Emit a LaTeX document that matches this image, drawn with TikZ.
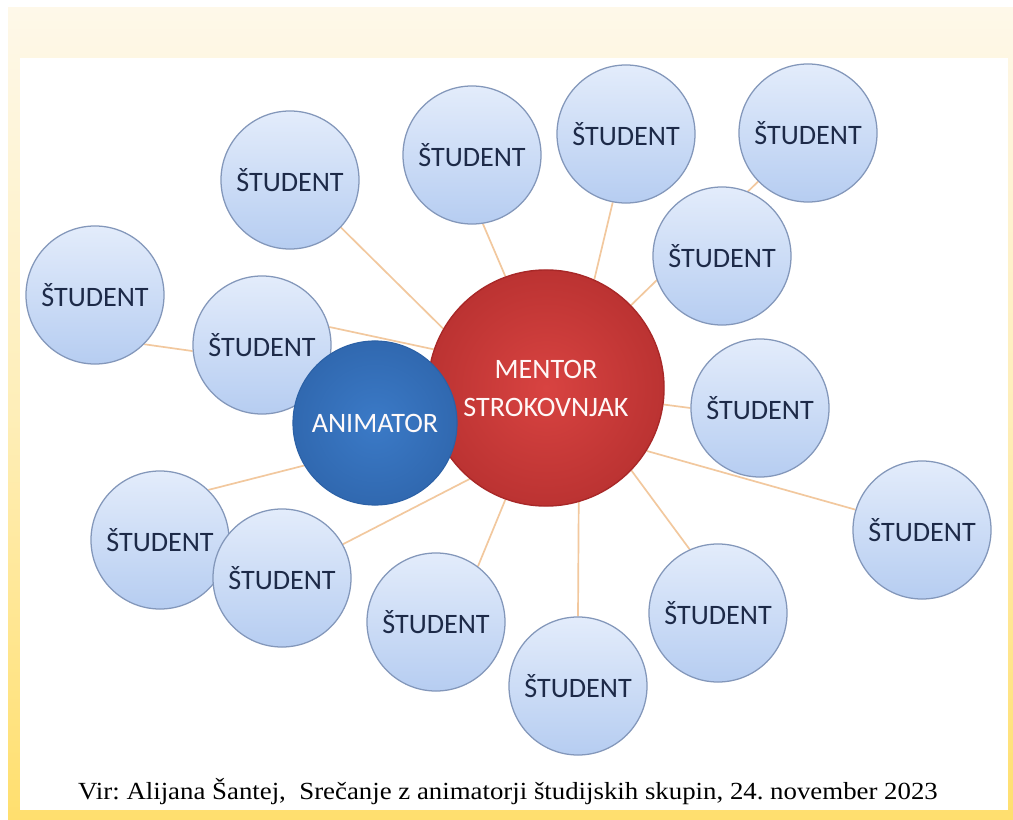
\documentclass[tikz,border=0pt]{standalone}
\usepackage{fontspec}
\setmainfont{Carlito}
\newfontfamily\capfont{Liberation Serif}
\usepackage{tikz}
\usetikzlibrary{backgrounds}
\definecolor{framecream}{HTML}{FEF8E9}
\definecolor{frameyellow}{HTML}{FFDF6E}
\definecolor{linktan}{HTML}{F2C89E}
\definecolor{studtop}{HTML}{E3ECFB}
\definecolor{studbot}{HTML}{B6CDF1}
\definecolor{studrim}{HTML}{8397BA}
\definecolor{studtext}{HTML}{1D2A48}
\definecolor{animblue}{HTML}{3B7AC7}
\definecolor{animrim}{HTML}{2C61A6}
\definecolor{mentred}{HTML}{D84341}
\definecolor{mentrim}{HTML}{A82828}

\begin{document}
\begin{tikzpicture}[x=0.025cm, y=-0.025cm,
    student/.style={circle, draw=studrim, line width=0.9pt, top color=studtop, bottom color=studbot,
      minimum size=3.45cm, inner sep=0pt, text=studtext, font=\fontsize{20}{24}\selectfont},
    animator/.style={circle, draw=animrim, line width=0.8pt, inner color=animblue, outer color=animrim!70!animblue,
      minimum size=4.1cm, inner sep=0pt, text=white!92!pink, font=\fontsize{20}{24}\selectfont},
    mentor/.style={circle, draw=mentrim, line width=1pt, inner color=mentred, outer color=mentrim!60!mentred,
      minimum size=5.9cm, inner sep=0pt, text=white!88!pink, align=center, font=\fontsize{20}{25}\selectfont},
    link/.style={draw=linktan, line width=1.2pt}]
            \useasboundingbox (0,0) rectangle (1013,820);
            \node[student] (s1) at (95,295) {ŠTUDENT};
            \node[student] (s2) at (290,180) {ŠTUDENT};
            \node[student] (s3) at (472,155) {ŠTUDENT};
            \node[student] (s4) at (626,134) {ŠTUDENT};
            \node[student] (s5) at (808,133) {ŠTUDENT};
            \node[student] (s6) at (722,256) {ŠTUDENT};
            \node[student] (s7) at (262,345) {ŠTUDENT};
            \node[student] (s8) at (760,408) {ŠTUDENT};
            \node[student] (s9) at (922,530) {ŠTUDENT};
            \node[student] (s10) at (160,540) {ŠTUDENT};
            \node[student] (s11) at (282,578) {ŠTUDENT};
            \node[student] (s12) at (436,622) {ŠTUDENT};
            \node[student] (s13) at (578,686) {ŠTUDENT};
            \node[student] (s14) at (718,613) {ŠTUDENT};
            \node[mentor] (mentor) at (546,388) {MENTOR\\[2pt]STROKOVNJAK};
            \node[animator] (animator) at (375,423) {ANIMATOR};
            \node[anchor=base, inner sep=0pt, font=\capfont\fontsize{17.5}{21}\selectfont\frenchspacing] (source) at (508,799)
              {\scalebox{1.09}[1]{Vir: Alijana Šantej,\ \ Srečanje z animatorji študijskih skupin, 24. november 2023}};
            \begin{scope}[on background layer]
            \fill[top color=framecream, bottom color=frameyellow, middle color=framecream!60!frameyellow]
              (8,8) rectangle (1013,820);
            \fill[white] (20,58) rectangle (1008,810);
            \draw[link] (s1.-45) -- (s7.185);
            \draw[link] (s2.-43) -- (mentor.150);
            \draw[link] (s3.-81) -- (mentor.110);
            \draw[link] (s4.-101) -- (mentor.66);
            \draw[link] (s5.center) -- (mentor.center);
            \draw[link] (s7.15) -- (mentor.161);
            \draw[link] (s8.180) -- (mentor.-8);
            \draw[link] (s9.163) -- (mentor.-32);
            \draw[link] (s10.46) -- (animator.211);
            \draw[link] (s11.29) -- (mentor.-130);
            \draw[link] (s12.53) -- (mentor.-110);
            \draw[link] (s13.90) -- (mentor.-74);
            \draw[link] (s14.114) -- (mentor.-44);
            \end{scope}
        \end{tikzpicture}
\end{document}
